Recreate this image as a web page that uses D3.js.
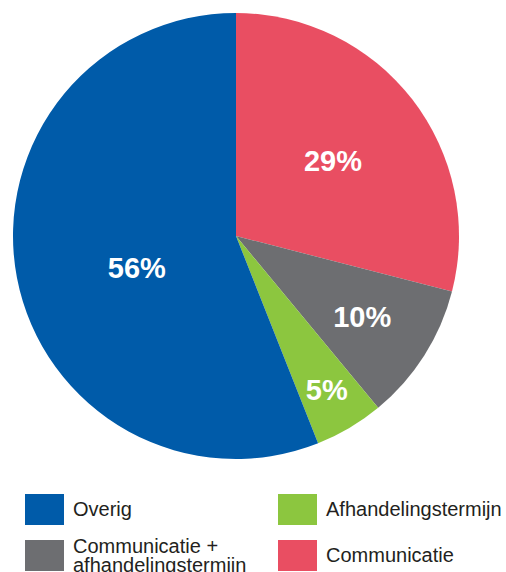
<!DOCTYPE html>
<html><head><meta charset="utf-8">
<script src="https://cdn.jsdelivr.net/npm/d3@7"></script>
<style>body{margin:0;background:#fff;}svg{display:block;}</style>
</head><body>
<svg id="c" width="506" height="572"></svg>
<script>
const categories = ["Communicatie", "Communicatie +\nafhandelingstermijn", "Afhandelingstermijn", "Overig"];
const values = [29, 10, 5, 56];
const labels = ["29%", "10%", "5%", "56%"];
const colors = ["#E94E62", "#6D6E71", "#8CC63F", "#005BA9"];
const legendOrder = [3, 2, 1, 0];

const svg = d3.select("#c");
const cx = 236, cy = 236, R = 223;
const labelFactor = [0.55, 0.67, 0.8, 0.467];
const labelShift = [0, 0, 0, -7 * Math.PI / 180];

const pie = d3.pie().sort(null).value(d => d)(values);
const arc = d3.arc().innerRadius(0).outerRadius(R);
const g = svg.append("g").attr("transform", `translate(${cx},${cy})`);
g.selectAll("path").data(pie).enter().append("path")
  .attr("d", arc).attr("fill", (d, i) => colors[i]);
g.selectAll("text").data(pie).enter().append("text")
  .attr("transform", (d, i) => {
    const r = R * labelFactor[i];
    const a = (d.startAngle + d.endAngle) / 2 + labelShift[i];
    return `translate(${r * Math.sin(a)},${-r * Math.cos(a)})`;
  })
  .attr("text-anchor", "middle").attr("dy", "0.36em")
  .attr("fill", "#fff").attr("font-family", "Liberation Sans, Arial, sans-serif")
  .attr("font-weight", "bold").attr("font-size", 29)
  .text((d, i) => labels[i]);

const legPos = [[25, 494], [278, 494], [25, 540], [278, 540]];
legendOrder.forEach((idx, k) => {
  const [x, y] = legPos[k];
  svg.append("rect").attr("x", x).attr("y", y).attr("width", 39).attr("height", 31).attr("fill", colors[idx]);
  const lines = categories[idx].split("\n");
  const t = svg.append("text").attr("x", x + 48)
    .attr("font-family", "Liberation Sans, Arial, sans-serif").attr("font-size", 20).attr("fill", "#231F20");
  const y0 = lines.length === 1 ? y + 22 : y + 13;
  lines.forEach((l, j) => t.append("tspan").attr("x", x + 48).attr("y", y0 + j * 19).text(l));
});
</script>
</body></html>
